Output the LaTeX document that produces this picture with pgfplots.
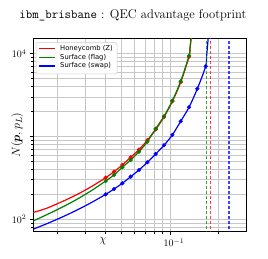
\documentclass[border=0pt]{standalone}
\usepackage{fontspec}
\usepackage{pgfplots}
\pgfplotsset{compat=1.18}
\usepackage{bm}
\newfontfamily\dejavu{DejaVu Sans}
\definecolor{mplred}{HTML}{FF0000}
\definecolor{mplgreen}{HTML}{008000}
\definecolor{mplblue}{HTML}{0000FF}
\begin{document}
\begin{tikzpicture}
\useasboundingbox (-33.3bp,-27.3bp) rectangle (234.7bp,231.7bp);
\begin{axis}[
 scale only axis, width=213.4bp, height=193.4bp,
 xmode=log, ymode=log,
 xmin=0.01428, xmax=0.298, ymin=70.8, ymax=15350,
 xtick={0.1}, xticklabels={$10^{-1}$},
 minor xtick={0.02,0.03,0.04,0.05,0.06,0.07,0.08,0.09,0.2},
 ytick={100,1000,10000}, yticklabels={$10^{2}$,,$10^{4}$},
 minor ytick={80,90,200,300,400,500,600,700,800,900,2000,3000,4000,5000,6000,7000,8000,9000},
 grid=both,
 major grid style={black!22, line width=0.6bp},
 minor grid style={black!22, line width=0.6bp},
 axis line style={line width=1.2bp},
 tick style={black, line width=0.6bp},
 major tick length=3.5bp, minor tick length=2bp,
 tick align=outside, tick pos=left,
 ticklabel style={font=\fontsize{10}{12}\selectfont},
 xticklabel style={xshift=4bp},
 xlabel={$\chi$},
 xlabel style={at={(axis description cs:0.327,-0.048)}, anchor=center, font=\fontsize{13}{15}\selectfont},
 ylabel={$N(\bm{p}, p_L)$},
 ylabel style={at={(axis description cs:-0.076,0.5)}, anchor=center, font=\fontsize{13}{15}\selectfont},
 title={\texttt{ibm\_brisbane} : QEC advantage footprint},
 title style={at={(axis description cs:0.467,1)}, anchor=base, yshift=14.3bp, inner sep=0pt, font=\fontsize{12.6}{15}\selectfont},
]
% curves
\addplot[draw=mplred, line width=1.2bp, smooth] coordinates {
(0.01428,121) (0.017,134.3) (0.02,153.2) (0.024,180.2) (0.028,209.8) (0.033,251)
(0.04002,318) (0.04506,376) (0.05074,453) (0.05713,561) (0.06432,695) (0.07243,900)
(0.08155,1215) (0.09183,1720) (0.10340,2650) (0.11643,4520) (0.13109,9200)
(0.1330,11500) (0.1350,15000) (0.137,19500)};
\addplot[draw=mplgreen, line width=1.2bp, smooth] coordinates {
(0.01428,95.5) (0.017,111.8) (0.02,130.1) (0.024,156.2) (0.028,184.9) (0.033,224.7)
(0.04002,290) (0.04506,343) (0.05074,425) (0.05713,520) (0.06432,655) (0.07243,865)
(0.08155,1242) (0.09183,1754) (0.10340,2705) (0.11643,4645) (0.13109,9460)
(0.1330,12000) (0.1350,15800) (0.137,20500)};
\addplot[draw=mplblue, line width=1.2bp, smooth] coordinates {
(0.01428,76) (0.017,87.1) (0.02,99.8) (0.024,117.3) (0.028,136) (0.033,161)
(0.04002,200) (0.04506,232) (0.05074,272) (0.05713,327) (0.06432,394) (0.07243,488)
(0.08155,615) (0.09183,783) (0.10340,1045) (0.11643,1527) (0.13109,2255) (0.14760,3776)
(0.16620,7050) (0.1685,9500) (0.171,13000) (0.1735,18500)};
% markers
\addplot[color=mplred, only marks, mark=*, mark size=1.9bp] coordinates {
(0.04002,318) (0.04506,376) (0.05074,453) (0.05713,561) (0.06432,695) (0.07243,900)
(0.08155,1215) (0.09183,1720) (0.10340,2650) (0.11643,4520) (0.13109,9200)};
\addplot[color=mplgreen, only marks, mark=*, mark size=1.9bp] coordinates {
(0.04002,290) (0.04506,343) (0.05074,425) (0.05713,520) (0.06432,655) (0.07243,865)
(0.08155,1242) (0.09183,1754) (0.10340,2705) (0.11643,4645) (0.13109,9460)};
\addplot[color=mplblue, only marks, mark=*, mark size=1.9bp] coordinates {
(0.04002,200) (0.04506,232) (0.05074,272) (0.05713,327) (0.06432,394) (0.07243,488)
(0.08155,615) (0.09183,783) (0.10340,1045) (0.11643,1527) (0.13109,2255) (0.14760,3776)
(0.16620,7050)};
% thresholds
\addplot[draw=mplgreen, draw opacity=0.75, line width=1.1bp, dash pattern=on 3.5bp off 1.5bp] coordinates {(0.1687,50) (0.1687,30000)};
\addplot[draw=mplred, draw opacity=0.75, line width=1.1bp, dash pattern=on 3.5bp off 1.5bp] coordinates {(0.1775,50) (0.1775,30000)};
\addplot[draw=mplblue, draw opacity=0.75, line width=1.1bp, dash pattern=on 3.5bp off 1.5bp] coordinates {(0.2317,50) (0.2317,30000)};
\end{axis}
% legend (axis lower-left corner is at the origin)
\draw[draw=black!20, fill=white, line width=0.5bp, rounded corners=1.5bp] (2.7bp,157.7bp) rectangle (83.7bp,189.0bp);
\draw[draw=mplred, line width=1.5bp] (6.0bp,183.0bp) -- (21.7bp,183.0bp);
\draw[draw=mplgreen, line width=1.5bp] (6.0bp,174.4bp) -- (21.7bp,174.4bp);
\draw[draw=mplblue, line width=1.5bp] (6.0bp,165.7bp) -- (21.7bp,165.7bp);
\node[anchor=west, inner sep=0pt, font=\dejavu\fontsize{6.8}{8}\selectfont] at (26.7bp,183.0bp) {Honeycomb (Z)};
\node[anchor=west, inner sep=0pt, font=\dejavu\fontsize{6.8}{8}\selectfont] at (26.7bp,174.4bp) {Surface (flag)};
\node[anchor=west, inner sep=0pt, font=\dejavu\fontsize{6.8}{8}\selectfont] at (26.7bp,165.7bp) {Surface (swap)};
\end{tikzpicture}
\end{document}
